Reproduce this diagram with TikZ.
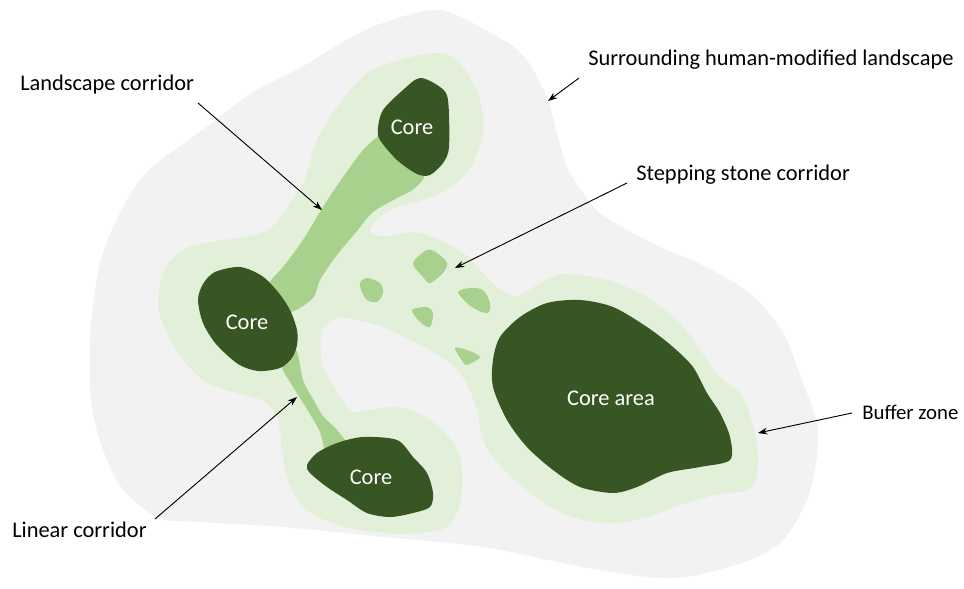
\documentclass[tikz,border=0pt]{standalone}
\usepackage{fontspec}
\setmainfont{Carlito}
\usetikzlibrary{arrows.meta}
\definecolor{bggray}{HTML}{F2F2F2}
\definecolor{buffergreen}{HTML}{E2F0D9}
\definecolor{midgreen}{HTML}{A9D18E}
\definecolor{darkgreen}{HTML}{375623}
\begin{document}
\begin{tikzpicture}[x=0.75pt,y=-0.75pt,
  blob/.style={smooth cycle, tension=0.5},
  lbl/.style={font=\fontsize{16.8}{19}\selectfont, text=black, inner sep=0pt},
  corelbl/.style={font=\fontsize{16.8}{19}\selectfont, text=white, inner sep=0pt},
  pointer/.style={-{Stealth[length=7pt,width=5pt]}, line width=0.7pt, draw=black}]
\useasboundingbox (0,0) rectangle (964,589);
% surrounding landscape
\fill[bggray] plot[blob] coordinates {
 (383,23) (440,10) (500,38) (527,60) (548,100) (557,133) (567,167) (583,193)
 (600,213) (633,233) (667,250) (700,264) (750,293) (783,333) (803,383)
 (817,423) (817,457) (807,500) (783,540) (750,560) (697,575) (657,578)
 (583,567) (483,547) (383,537) (283,527) (200,522) (157,517) (117,481)
 (93,414) (90,338) (100,263) (123,207) (150,169) (200,132) (250,94)
 (300,68) (350,38)};
% buffer zone
\fill[buffergreen] plot[blob] coordinates {
 (433,53) (453,57) (467,73) (480,100) (483,133) (472,165) (450,188)
 (423,200) (397,207) (378,218) (370,232) (385,236) (413,232) (440,240)
 (463,253) (480,270) (497,287) (517,296) (537,285) (563,274) (607,280)
 (647,297) (680,323) (700,350) (720,377) (740,393) (750,415) (757,443)
 (757,477) (747,490) (715,495) (680,505) (650,516) (617,523) (583,520)
 (550,507) (517,482) (497,462) (483,440) (477,410) (468,387) (455,367)
 (430,350) (410,340) (383,327) (357,320) (337,318) (322,330) (322,363)
 (337,392) (352,412) (370,410) (400,407) (430,420) (455,445) (462,470)
 (460,505) (445,528) (400,534) (350,528) (320,518) (300,503) (288,480)
 (282,450) (278,420) (265,402) (237,393) (207,383) (183,360) (168,335)
 (158,305) (165,268) (187,248) (217,241) (250,236) (273,226) (300,188)
 (307,173) (317,140) (337,107) (367,73) (400,60)};
% landscape corridor
\fill[midgreen] plot[blob] coordinates {
 (390,125) (377,137) (363,150) (343,177) (323,207) (303,240) (283,267)
 (270,282) (268,300) (290,312) (313,298) (320,280) (337,255) (357,231)
 (373,212) (397,198) (415,188) (424,170)};
% linear corridor
\fill[midgreen] plot[blob] coordinates {
 (280,350) (282,368) (290,382) (300,398) (310,414) (320,432) (327,452)
 (347,446) (337,430) (323,416) (313,399) (303,380) (296,350)};
% stepping stones
\fill[midgreen] plot[blob] coordinates {(413,263) (427,250) (437,253) (447,263) (443,273) (430,283) (423,277)};
\fill[midgreen] plot[blob] coordinates {(360,283) (367,278) (380,283) (383,293) (377,302) (367,300) (362,292)};
\fill[midgreen] plot[blob] coordinates {(458,292) (470,288) (483,290) (490,303) (488,313) (477,310) (467,303)};
\fill[midgreen] plot[blob] coordinates {(412,310) (427,307) (433,313) (430,327) (420,322)};
\fill[midgreen] plot[blob] coordinates {(455,348) (467,350) (480,357) (467,365) (463,362)};
% cores
\fill[darkgreen] plot[blob] coordinates {
 (420,78) (440,87) (448,100) (449,147) (443,163) (430,175) (417,174)
 (397,160) (380,140) (378,128) (383,110) (403,90)};
\fill[darkgreen] plot[blob] coordinates {
 (215,272) (240,267) (262,276) (278,292) (290,310) (297,330) (297,345)
 (292,358) (280,368) (258,371) (238,364) (216,344) (203,323) (198,300) (203,284)};
\fill[darkgreen] plot[blob] coordinates {
 (307,465) (317,453) (337,443) (363,437) (397,440) (413,457) (427,473)
 (433,493) (430,507) (413,513) (390,517) (367,513) (347,500) (327,487) (310,473)};
\fill[darkgreen] plot[blob] coordinates {
 (493,360) (500,337) (520,317) (547,303) (580,300) (613,307) (647,327)
 (673,347) (693,367) (707,393) (720,413) (730,437) (730,460) (700,467)
 (667,473) (637,487) (613,493) (580,487) (553,470) (527,447) (507,420) (493,387)};
% core labels
\node[corelbl] (c1) at (412,127) {Core};
\node[corelbl] (c2) at (247,322) {Core};
\node[corelbl] (c3) at (371,477) {Core};
\node[corelbl] (c4) at (611,398) {Core area};
% labels
\node[lbl, anchor=west] (lc) at (20,85) {Landscape corridor};
\node[lbl, anchor=west] (lin) at (12,530) {Linear corridor};
\node[lbl, anchor=west] (sur) at (588,60) {Surrounding human-modified landscape};
\node[lbl, anchor=west] (ssc) at (636,175) {Stepping stone corridor};
\node[lbl, anchor=west, font=\fontsize{15.6}{18}\selectfont] (buf) at (862,412) {Buffer zone};
% arrow ends
\coordinate (lcs) at (198,103); \coordinate (lct) at (322,210);
\coordinate (lins) at (155,519); \coordinate (lint) at (297,397);
\coordinate (surs) at (579,78); \coordinate (surt) at (548,101);
\coordinate (sscs) at (627,183); \coordinate (ssct) at (455,268);
\coordinate (bufs) at (852,413); \coordinate (buft) at (758,433);
\draw[pointer] (lcs) -- (lct);
\draw[pointer] (lins) -- (lint);
\draw[pointer] (surs) -- (surt);
\draw[pointer] (sscs) -- (ssct);
\draw[pointer] (bufs) -- (buft);
\end{tikzpicture}
\end{document}
